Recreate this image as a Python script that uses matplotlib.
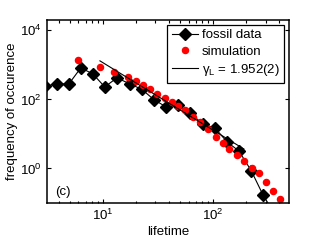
import numpy as np
import matplotlib
matplotlib.use("Agg")
import matplotlib.pyplot as plt
from matplotlib.ticker import LogLocator, NullFormatter, NullLocator

plt.rcParams['font.family'] = ['Liberation Sans', 'DejaVu Sans']
plt.rcParams['mathtext.fontset'] = 'custom'
plt.rcParams['mathtext.rm'] = 'Liberation Sans'
plt.rcParams['mathtext.it'] = 'Liberation Sans:italic'
plt.rcParams['mathtext.bf'] = 'Liberation Sans:bold'

# fossil data
fossil_x = [2.97, 3.82, 4.91, 6.3, 8.1, 10.4, 13.4, 17.6, 22.6, 29.1, 37.4, 48.0,
            61.8, 81.0, 104, 134, 172, 222, 285, 367]
fossil_y = [240, 281, 281, 818, 548, 230, 420, 281, 195, 98, 61, 69,
            41, 19, 15, 5.9, 3.2, 0.87, 0.17, 0.045]

# simulation
sim_x = [5.9, 9.4, 12.6, 16.9, 19.9, 23.1, 26.7, 31.0, 36.6, 42.4, 48, 55.5,
         65.8, 76, 90, 106, 123, 139, 165, 191, 226, 262, 305, 352, 407]
sim_y = [1396, 880, 627, 449, 350, 263, 195, 148, 110, 85, 65, 50,
         31, 22, 14, 8.2, 5.5, 3.7, 2.5, 1.65, 1.03, 0.74, 0.41, 0.22, 0.13]

# power-law fit
gamma_L = 1.952
fit_A = 1.036e5
fit_xrange = [9.4, 191]

fig = plt.figure(figsize=(3.19, 2.40), dpi=100)
ax = fig.add_axes([0.147, 0.154, 0.759, 0.763])

ax.plot(fossil_x, fossil_y, '-', color='black', lw=0.8, marker='D',
        markersize=6.2, markerfacecolor='black', markeredgecolor='black',
        label='fossil data')
ax.plot(sim_x, sim_y, 'o', color='red', markersize=4.4, markeredgecolor='red',
        label='simulation')
fx = np.array(fit_xrange)
ax.plot(fx, fit_A * fx ** (-gamma_L), '-', color='black', lw=0.8,
        label='γ$_{\\rm L}$ = 1.952(2)')

ax.set_xscale('log')
ax.set_yscale('log')
ax.set_xlim(3.1, 490)
ax.set_ylim(0.1, 2e4)

ax.yaxis.set_major_locator(LogLocator(base=100.0, numticks=10))
ax.yaxis.set_minor_locator(NullLocator())
ax.xaxis.set_major_locator(LogLocator(base=10.0, numticks=10))
ax.xaxis.set_minor_locator(LogLocator(base=10.0, subs=np.arange(2, 10), numticks=10))
ax.xaxis.set_minor_formatter(NullFormatter())

ax.tick_params(which='both', direction='in', top=True, right=True,
               labelsize=9.5, width=0.8)
ax.tick_params(which='major', length=3)
ax.tick_params(which='minor', length=1.8)
for s in ax.spines.values():
    s.set_linewidth(1.1)

ax.set_xlabel('lifetime', fontsize=9.5, labelpad=2)
ax.set_ylabel('frequency of occurence', fontsize=9.5, labelpad=2)

ax.text(0.035, 0.06, '(c)', transform=ax.transAxes, fontsize=9.5,
        ha='left', va='center')

leg = ax.legend(loc='upper right', fontsize=9.5, frameon=True, fancybox=False,
                edgecolor='black', framealpha=1, borderpad=0.35,
                labelspacing=0.32, handlelength=2.0, handletextpad=0.3,
                borderaxespad=0.35)
leg.get_frame().set_linewidth(0.9)

fig.savefig('out.png', dpi=100)
